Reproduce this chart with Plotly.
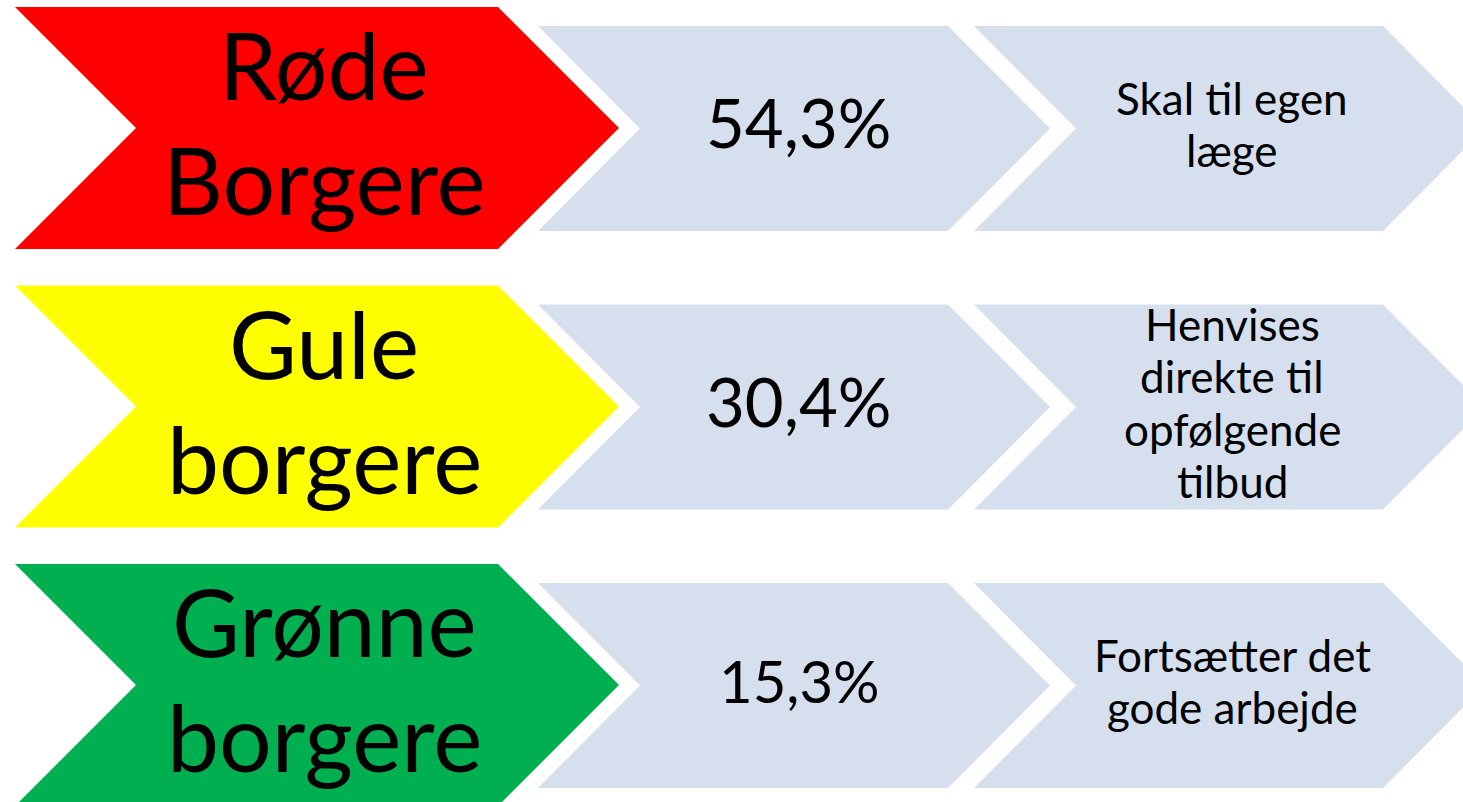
import plotly.graph_objects as go

# ---- data ----
groups = [["Røde", "Borgere"], ["Gule", "borgere"], ["Grønne", "borgere"]]
shares = [54.3, 30.4, 15.3]
actions = [["Skal til egen", "læge"],
           ["Henvises", "direkte til", "opfølgende", "tilbud"],
           ["Fortsætter det", "gode arbejde"]]
group_colors = ["#FF0000", "#FFFF00", "#00B050"]
step_color = "#D5DFED"

# ---- layout constants (pixel space) ----
W, H = 1463, 802
FONT = "Lato, Carlito, Calibri, sans-serif"
row_pitch = 278.5
ASC = 0.387  # baseline offset from text box middle (em)

label_size = 93
share_sizes = [67, 67, 58]
share_base = [148, 148, 146]
action_size = 44
action_lead = 52.5
action_mid = 141  # vertical centre of the action text block (row-relative)


def chevron(x0, x1, top, bot, depth, notch=True):
    mid = (top + bot) / 2
    pts = [(x0, top), (x1, top), (x1 + depth, mid), (x1, bot), (x0, bot)]
    if notch:
        pts.append((x0 + depth, mid))
    return "M " + " L ".join(f"{x},{y}" for x, y in pts) + " Z"


fig = go.Figure()
shapes = []
annotations = []

for i, (lines, share, act, col) in enumerate(zip(groups, shares, actions, group_colors)):
    off = i * row_pitch
    # coloured label chevron
    shapes.append(dict(type="path", xref="x", yref="y",
                       path=chevron(15, 498, 7 + off, 249 + off, 121),
                       fillcolor=col, line=dict(width=0), layer="below"))
    # light step chevrons
    shapes.append(dict(type="path", xref="x", yref="y",
                       path=chevron(538, 948, 26 + off, 231 + off, 102),
                       fillcolor=step_color, line=dict(width=0), layer="below"))
    shapes.append(dict(type="path", xref="x", yref="y",
                       path=chevron(974, 1383, 26 + off, 231 + off, 102),
                       fillcolor=step_color, line=dict(width=0), layer="below"))

    # big group label
    s = label_size
    for j, t in enumerate(lines):
        base = 100 + j * 115 + off
        annotations.append(dict(x=324, y=base - ASC * s, text=t, showarrow=False,
                                xanchor="center", yanchor="middle",
                                font=dict(family=FONT, size=s, color="black")))
    # share
    s = share_sizes[i]
    txt = f"{share:.1f}".replace(".", ",") + "%"
    annotations.append(dict(x=799, y=share_base[i] + off - ASC * s, text=txt, showarrow=False,
                            xanchor="center", yanchor="middle",
                            font=dict(family=FONT, size=s, color="black")))
    # action
    s = action_size
    n = len(act)
    first = action_mid - (n - 1) / 2 * action_lead
    for j, t in enumerate(act):
        base = first + j * action_lead + off
        annotations.append(dict(x=1232, y=base - ASC * s, text=t, showarrow=False,
                                xanchor="center", yanchor="middle",
                                font=dict(family=FONT, size=s, color="black")))

fig.add_trace(go.Scatter(x=[0, W], y=[0, H], mode="markers",
                         marker=dict(opacity=0), hoverinfo="skip", showlegend=False))

fig.update_layout(
    width=W, height=H,
    margin=dict(l=0, r=0, t=0, b=0),
    paper_bgcolor="white", plot_bgcolor="white",
    xaxis=dict(range=[0, W], visible=False, fixedrange=True),
    yaxis=dict(range=[H, 0], visible=False, fixedrange=True),
    shapes=shapes, annotations=annotations,
    showlegend=False,
)

fig.write_html("out.html", config={"displayModeBar": False},
               post_script="document.body.style.margin='0';document.body.style.overflow='hidden';")
